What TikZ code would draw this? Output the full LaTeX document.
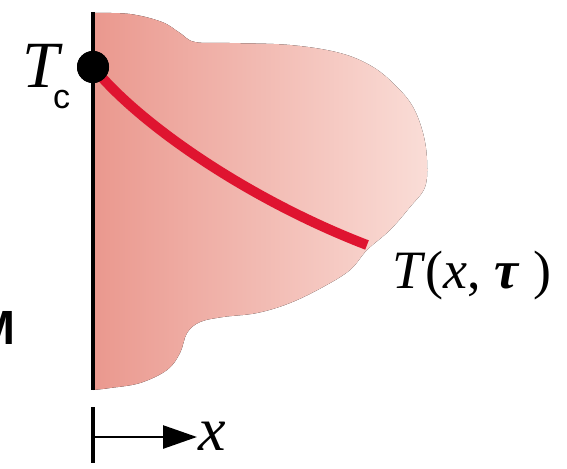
\documentclass[tikz,border=0pt]{standalone}
\usepackage{fontspec}
\setmainfont{Liberation Serif}
\setsansfont{Liberation Sans}
\usepackage{tikz}
\usetikzlibrary{arrows.meta,positioning}
\definecolor{warm}{HTML}{EA988E}
\definecolor{cool}{HTML}{FADDD7}
\definecolor{front}{HTML}{DF1430}

\begin{document}
\begin{tikzpicture}[
  x=0.5pt, y=-0.5pt,
  every node/.style={inner sep=0pt},
  region/.style={left color=warm, right color=cool},
  wall/.style={draw=black, line width=2pt},
  front/.style={draw=front, line width=5pt},
  pin/.style={circle, fill=black, minimum size=16pt},
  axis/.style={-{Triangle[length=17pt, width=11.5pt]}, line width=1.3pt}
]
  \useasboundingbox (0,0) rectangle (567,468);

  % Heated region
  \fill[region] (93,390) -- plot[smooth, tension=0.6] coordinates {
    (93,13) (130,14) (162,22) (180,33) (195,42) (230,43) (290,45)
    (340,53) (373,67) (397,87) (413,107) (423,133) (427,160) (425,187)
    (410,207) (390,230) (367,250) (350,270) (323,287) (290,303)
    (257,313) (223,317) (200,322) (187,333) (180,353) (167,370)
    (140,383) (110,388) (93,390)} -- cycle;

  % Wall and front
  \coordinate (walltop) at (93,12);
  \coordinate (wallbot) at (93,390);
  \draw[wall] (walltop) -- (wallbot);

  \node[pin] (tc) at (93,67) {};
  \coordinate (tend) at (367,245);
  \draw[front] (tc.center) .. controls (140,125) and (250,200) .. (tend);
  \node[pin] at (tc) {};

  \node[anchor=base west] (tclab) at (22,87)
    {\fontsize{33}{33}\selectfont\itshape T\kern-3pt%
     \raisebox{-10.5pt}{\fontsize{17}{17}\selectfont\upshape\sffamily c}};
  \node[anchor=base west] (tlab) at (392,288)
    {\fontsize{27}{30}\selectfont\textit{T}(\textit{x}, {\bfseries\itshape τ}\;)};

  % Axis
  \coordinate (ticktop) at (93,407);
  \coordinate (tickbot) at (93,463);
  \draw[line width=1.6pt] (ticktop) -- (tickbot);
  \coordinate (ax0) at (93,437);
  \coordinate (ax1) at (197,437);
  \draw[axis] (ax0) -- (ax1);
  \node[anchor=base west] (xlab) at (198,450)
    {\fontsize{31}{31}\selectfont\itshape x};

  \node (mlab) at (-5,328) {\fontsize{24}{24}\selectfont\sffamily\bfseries M};
\end{tikzpicture}
\end{document}
